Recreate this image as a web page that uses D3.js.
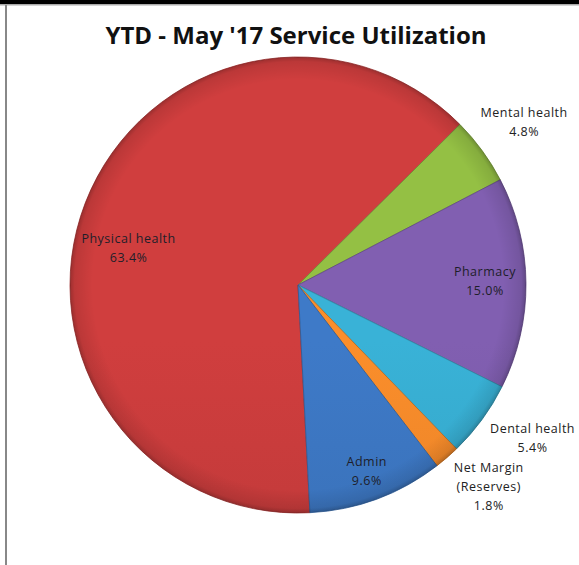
<!DOCTYPE html>
<html>
<head>
<meta charset="utf-8">
<script src="https://cdn.jsdelivr.net/npm/d3@7"></script>
<style>
  html, body { margin: 0; padding: 0; background: #fff; }
  svg { display: block; }
</style>
</head>
<body>
<svg id="chart"></svg>
<script>
const categories = ["Physical health", "Mental health", "Pharmacy", "Dental health", "Net Margin (Reserves)", "Admin"];
const labelLines = [["Physical health"], ["Mental health"], ["Pharmacy"], ["Dental health"], ["Net Margin", "(Reserves)"], ["Admin"]];
const values = [63.4, 4.8, 15.0, 5.4, 1.8, 9.6];
const colors = ["#c23a3a", "#8ab33f", "#7858a5", "#35a6c8", "#ea8428", "#3a72ba"];
const title = "YTD - May '17 Service Utilization";

const width = 579, height = 565;
const cx = 298, cy = 285, radius = 228;
// label placement: radius factor and angle nudge (degrees)
const labelLayout = [
  { r: 0.76, da: -9 },
  { r: 1.22, da: 0.5 },
  { r: 0.82, da: -0.5 },
  { r: 1.23, da: -3 },
  { r: 1.22, da: -2.5 },
  { r: 0.87, da: 0 }
];

const svg = d3.select("#chart").attr("width", width).attr("height", height);

// frame
svg.append("rect").attr("x", 0).attr("y", 0).attr("width", width).attr("height", 4).attr("fill", "#000");
svg.append("rect").attr("x", 0).attr("y", 4).attr("width", width).attr("height", 1.5).attr("fill", "#aaa");
svg.append("rect").attr("x", 5).attr("y", 5).attr("width", 2).attr("height", height - 5).attr("fill", "#888");

svg.append("text")
  .attr("x", 296).attr("y", 44)
  .attr("text-anchor", "middle")
  .attr("font-family", "'Open Sans', 'Liberation Sans', sans-serif")
  .attr("font-weight", "bold")
  .attr("font-size", 24)
  .attr("fill", "#111")
  .text(title);

const defs = svg.append("defs");
colors.forEach((c, i) => {
  const g = defs.append("linearGradient")
    .attr("id", "grad" + i)
    .attr("gradientUnits", "userSpaceOnUse")
    .attr("x1", 0).attr("y1", cy - radius).attr("x2", 0).attr("y2", cy + radius);
  g.append("stop").attr("offset", 0).attr("stop-color", d3.color(c).brighter(0.2));
  g.append("stop").attr("offset", 0.45).attr("stop-color", c);
  g.append("stop").attr("offset", 1).attr("stop-color", d3.color(c).darker(0.4));
});
const shade = defs.append("radialGradient").attr("id", "shade")
  .attr("gradientUnits", "userSpaceOnUse")
  .attr("cx", cx).attr("cy", cy).attr("r", radius);
shade.append("stop").attr("offset", 0.9).attr("stop-color", "#000").attr("stop-opacity", 0);
shade.append("stop").attr("offset", 0.98).attr("stop-color", "#000").attr("stop-opacity", 0.1);
shade.append("stop").attr("offset", 1).attr("stop-color", "#000").attr("stop-opacity", 0.25);

const startDeg = 177;
const pie = d3.pie().sort(null).value(d => d)
  .startAngle(startDeg * Math.PI / 180)
  .endAngle((startDeg + 360) * Math.PI / 180);
const arcs = pie(values);
const arc = d3.arc().innerRadius(0).outerRadius(radius);

const g = svg.append("g").attr("transform", `translate(${cx},${cy})`);

g.selectAll("path.slice")
  .data(arcs)
  .enter()
  .append("path")
  .attr("class", "slice")
  .attr("d", arc)
  .attr("fill", (d, i) => `url(#grad${i})`)
  .attr("stroke", (d, i) => d3.color(colors[i]).darker(0.6))
  .attr("stroke-width", 0.8)
  .attr("stroke-linejoin", "round");

g.append("circle").attr("r", radius).attr("fill", "url(#shade)").attr("transform", `translate(${-cx},${-cy})`)
  .attr("cx", cx).attr("cy", cy);

const fmt = d3.format(".1f");
const labels = g.selectAll("text.lbl")
  .data(arcs)
  .enter()
  .append("text")
  .attr("class", "lbl")
  .attr("text-anchor", "middle")
  .attr("font-family", "'Open Sans', 'Liberation Sans', sans-serif")
  .attr("font-size", 12.5)
  .attr("letter-spacing", 0.5)
  .attr("fill", (d, i) => labelLayout[i].r > 1 ? "#222" : "#1e1e2a")
  .attr("transform", (d, i) => {
    const a = (d.startAngle + d.endAngle) / 2 + labelLayout[i].da * Math.PI / 180;
    const r = radius * labelLayout[i].r;
    const lines = labelLines[i].length + 1;
    const x = Math.sin(a) * r;
    const y = -Math.cos(a) * r - (lines - 1) * 19 / 2 + 4;
    return `translate(${x},${y})`;
  });

labels.each(function (d, i) {
  const t = d3.select(this);
  labelLines[i].concat([fmt(values[i]) + "%"]).forEach((line, k) => {
    t.append("tspan").attr("x", 0).attr("dy", k === 0 ? 0 : 19).text(line);
  });
});
</script>
</body>
</html>
